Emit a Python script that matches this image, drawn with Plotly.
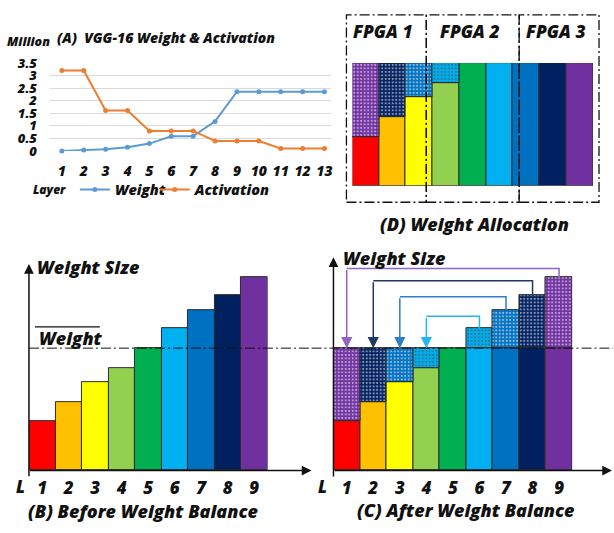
import plotly.graph_objects as go

W, H = 614, 533
def px(x): return x / W
def py(y): return 1 - y / H

FONT = "Open Sans"
INK = "#111111"

# ---------------- data ----------------
# Panel A: VGG-16 per-layer weight / activation sizes (million)
layers_a = list(range(1, 14))
weight_m = [0.0017, 0.037, 0.074, 0.147, 0.295, 0.59, 0.59, 1.18, 2.36, 2.36, 2.36, 2.36, 2.36]
activation_m = [3.21, 3.21, 1.61, 1.61, 0.80, 0.80, 0.80, 0.40, 0.40, 0.40, 0.10, 0.10, 0.10]
yticks_a = [0, 0.5, 1, 1.5, 2, 2.5, 3, 3.5]
yticklabels_a = ["0", "0.5", "1", "1.5", "2", "2.5", "3", "3.5"]

# Panels B, C, D: schematic weight sizes per layer
layers = [1, 2, 3, 4, 5, 6, 7, 8, 9]
weight_size = [40, 56, 72, 84, 100, 116, 131, 143, 158]
layer_colors = ["#FF0000", "#FFC000", "#FFFF00", "#92D050", "#00B050",
                "#00B0F0", "#0070C0", "#002060", "#7030A0"]
arrow_colors = ["#9163C8", "#203864", "#2E7FCA", "#22B6F0"]
fpga_labels = ["FPGA 1", "FPGA 2", "FPGA 3"]

mean_w = sum(weight_size) / len(weight_size)
n = len(layers)
donor = [n - 1 - i for i in range(n)]

# ---------------- styles ----------------
def f(size, color=INK, italic=True):
    return dict(family=FONT, size=size, color=color, weight=800,
                style="italic" if italic else "normal")

edge = dict(color="#2b2b2b", width=1)
PAT = dict(shape=".", size=3.5, solidity=0.35, fgcolor="rgba(255,255,255,0.8)")
DASHDOT = "10px,3px,2px,3px"

fig = go.Figure()

# ---------------- Panel A ----------------
fig.add_trace(go.Scatter(x=layers_a, y=weight_m, mode="lines+markers", name="Weight",
                         line=dict(color="#5B9BD5", width=2), marker=dict(size=5, color="#5B9BD5"),
                         xaxis="x", yaxis="y", cliponaxis=False, legend="legend"))
fig.add_trace(go.Scatter(x=layers_a, y=activation_m, mode="lines+markers", name="Activation",
                         line=dict(color="#ED7D31", width=2), marker=dict(size=5, color="#ED7D31"),
                         xaxis="x", yaxis="y", cliponaxis=False, legend="legend2"))

# ---------------- Panel B ----------------
fig.add_trace(go.Bar(x=layers, y=weight_size, width=1, marker=dict(color=layer_colors, line=edge),
                     xaxis="x3", yaxis="y3", showlegend=False))

# ---------------- Panel C ----------------
solid_c = [min(v, mean_w) for v in weight_size]
fig.add_trace(go.Bar(x=layers, y=solid_c, width=1, marker=dict(color=layer_colors, line=edge),
                     xaxis="x4", yaxis="y4", showlegend=False))
recv_idx = [i for i in range(n) if weight_size[i] < mean_w and donor[i] != i]
fig.add_trace(go.Bar(x=[layers[i] for i in recv_idx],
                     y=[mean_w - weight_size[i] for i in recv_idx],
                     base=[weight_size[i] for i in recv_idx], width=1,
                     marker=dict(color=[layer_colors[donor[i]] for i in recv_idx], line=edge,
                                 pattern=dict(PAT, bgcolor=[layer_colors[donor[i]] for i in recv_idx])),
                     xaxis="x4", yaxis="y4", showlegend=False))
don_idx = [i for i in range(n) if weight_size[i] > mean_w]
fig.add_trace(go.Bar(x=[layers[i] for i in don_idx],
                     y=[weight_size[i] - mean_w for i in don_idx],
                     base=[mean_w for i in don_idx], width=1,
                     marker=dict(color=[layer_colors[i] for i in don_idx], line=edge,
                                 pattern=dict(PAT, bgcolor=[layer_colors[i] for i in don_idx])),
                     xaxis="x4", yaxis="y4", showlegend=False))

# transfer arrows in C
arrow_rise = [7, 12, 11, 10]
annotations = []
for k, i in enumerate(recv_idx):
    j = donor[i]
    lvl = weight_size[j] + arrow_rise[k]
    fig.add_trace(go.Scatter(x=[layers[j], layers[j], layers[i]], y=[weight_size[j], lvl, lvl],
                             mode="lines", line=dict(color=arrow_colors[k], width=1.5),
                             xaxis="x4", yaxis="y4", showlegend=False, hoverinfo="skip"))
    annotations.append(dict(x=layers[i], y=mean_w, ax=layers[i], ay=lvl, xref="x4", yref="y4",
                            axref="x4", ayref="y4", text="", showarrow=True, arrowhead=2,
                            arrowsize=1.5, arrowwidth=1.5, arrowcolor=arrow_colors[k], standoff=0))

# ---------------- Panel D ----------------
fig.add_trace(go.Bar(x=layers, y=solid_c, width=1, marker=dict(color=layer_colors, line=edge),
                     xaxis="x2", yaxis="y2", showlegend=False))
fig.add_trace(go.Bar(x=[layers[i] for i in recv_idx],
                     y=[mean_w - weight_size[i] for i in recv_idx],
                     base=[weight_size[i] for i in recv_idx], width=1,
                     marker=dict(color=[layer_colors[donor[i]] for i in recv_idx], line=edge,
                                 pattern=dict(PAT, bgcolor=[layer_colors[donor[i]] for i in recv_idx])),
                     xaxis="x2", yaxis="y2", showlegend=False))

# ---------------- axes ----------------
hidden = dict(showgrid=False, zeroline=False, showline=False, showticklabels=False, ticks="")
fig.update_layout(
    xaxis=dict(domain=[px(50), px(332)], range=[0.4545, 13.318], tickvals=layers_a, anchor="y",
               showgrid=False, zeroline=False, showline=False, ticks="",
               tickfont=f(14), ticklabelstandoff=10),
    yaxis=dict(domain=[py(147), py(56)], range=[-0.001, 3.501], tickvals=yticks_a, anchor="x",
               ticktext=yticklabels_a, showgrid=True, gridcolor="#d9d9d9", gridwidth=1,
               zeroline=False, showline=False, ticks="", tickfont=f(13), ticklabelstandoff=12),
    xaxis2=dict(domain=[px(353), px(594)], range=[0.5, 9.5], anchor="y2", **hidden),
    yaxis2=dict(domain=[py(183), py(56)], range=[0, mean_w], anchor="x2", **hidden),
    xaxis3=dict(domain=[px(29), px(268)], range=[0.5, 9.5], tickvals=layers, anchor="y3",
                showgrid=False, zeroline=False, showline=False, ticks="",
                tickfont=f(17), ticklabelstandoff=5),
    yaxis3=dict(domain=[py(477.7), py(262)], range=[0, (477.7 - 262) / 1.267], anchor="x3", **hidden),
    xaxis4=dict(domain=[px(334), px(573.3)], range=[0.5, 9.5], tickvals=layers, anchor="y4",
                showgrid=False, zeroline=False, showline=False, ticks="",
                tickfont=f(17), ticklabelstandoff=5),
    yaxis4=dict(domain=[py(477.7), py(262)], range=[0, (477.7 - 262) / 1.267], anchor="x4", **hidden),
)

# ---------------- shapes ----------------
shapes = []
shapes.append(dict(type="line", xref="paper", yref="y3", x0=px(29), x1=px(310), y0=mean_w, y1=mean_w,
                   line=dict(color=INK, width=1, dash=DASHDOT)))
shapes.append(dict(type="line", xref="paper", yref="y4", x0=px(312), x1=px(614), y0=mean_w, y1=mean_w,
                   line=dict(color=INK, width=1, dash=DASHDOT)))
shapes.append(dict(type="line", xref="paper", yref="paper", x0=px(35), x1=px(100), y0=py(329), y1=py(329),
                   line=dict(color=INK, width=1.2)))
box_edges = [347, 427, 520, 600]
for b in range(3):
    shapes.append(dict(type="rect", xref="paper", yref="paper", x0=px(box_edges[b]), x1=px(box_edges[b + 1]),
                       y0=py(200), y1=py(6), line=dict(color=INK, width=1.3, dash=DASHDOT)))

for (x0, x1, ytop) in [(29, 312, 264), (334, 613, 257)]:
    annotations.append(dict(x=px(x1), y=py(477.7), xref="paper", yref="paper", ax=-(x1 - x0), ay=0,
                            text="", showarrow=True, arrowhead=2, arrowsize=1.3, arrowwidth=1.5,
                            arrowcolor=INK, standoff=0))
    annotations.append(dict(x=px(x0), y=py(ytop), xref="paper", yref="paper", ax=0, ay=(477.7 - ytop),
                            text="", showarrow=True, arrowhead=2, arrowsize=1.3, arrowwidth=1.5,
                            arrowcolor=INK, standoff=0))

def txt(s, x, y, size, xanchor="center", italic=True):
    annotations.append(dict(text=s, x=px(x), y=py(y), xref="paper", yref="paper", showarrow=False,
                            xanchor=xanchor, yanchor="middle", font=f(size, italic=italic)))

txt("Million", 5, 34, 12.5, "left")
txt("(A)  VGG-16 Weight &amp; Activation", 55, 30, 14, "left")
txt("Layer", 31, 187, 12, "left")
fpga_x = [384, 471, 557]
for s, x in zip(fpga_labels, fpga_x):
    txt(s, x, 23, 17.5)
txt("(D) Weight Allocation", 475, 223, 18)
txt("Weight Size", 35, 267, 18, "left")
txt("Weight", 37, 341, 18, "left")
txt("L", 21, 494, 17)
txt("(B) Before Weight Balance", 144, 520, 18)
txt("Weight Size", 342, 258, 18, "left")
txt("L", 323, 494, 17)
txt("(C) After Weight Balance", 467, 518, 18)

leg = dict(orientation="h", xanchor="left", yanchor="middle", font=f(14.5),
           bgcolor="rgba(0,0,0,0)", itemwidth=30, borderwidth=0)
fig.update_layout(
    width=W, height=H, margin=dict(l=0, r=0, t=0, b=0), autosize=False,
    paper_bgcolor="white", plot_bgcolor="rgba(0,0,0,0)",
    barmode="overlay", bargap=0,
    shapes=shapes, annotations=annotations,
    legend=dict(leg, x=px(75), y=py(187)),
    legend2=dict(leg, x=px(155), y=py(187)),
    font=dict(family=FONT),
)

page_fix = (
    "document.documentElement.style.margin='0';"
    "document.documentElement.style.padding='0';"
    "document.documentElement.style.overflow='hidden';"
    "document.body.style.margin='0';document.body.style.padding='0';"
    "document.body.style.overflow='hidden';"
    "var gd=document.getElementsByClassName('plotly-graph-div')[0];"
    "gd.style.position='fixed';gd.style.left='0px';gd.style.top='0px';"
)
fig.write_html("out.html", config={"displayModeBar": False, "responsive": False},
               post_script=page_fix)
